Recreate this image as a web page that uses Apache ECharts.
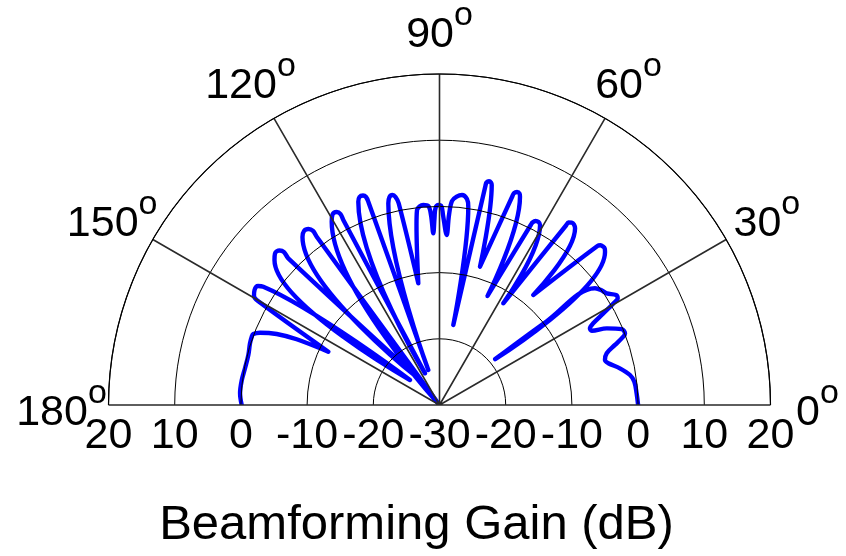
<!DOCTYPE html>
<html>
<head>
<meta charset="utf-8">
<script src="https://cdn.jsdelivr.net/npm/echarts@6/dist/echarts.min.js"></script>
<style>
  html, body { margin: 0; padding: 0; background: #ffffff; }
  #chart { width: 846px; height: 556px; }
</style>
</head>
<body>
<div id="chart"></div>
<script>
// Beam pattern: direction (degrees) and gain (dB), traced in drawing order
const angleDeg = [
  0, 3.4, 6.8, 8.95, 11.5, 13.9, 15.2, 17.2, 18.9, 20.4, 21.1, 22.6, 24.6, 26.0, 27.0, 28.0,
  29.2, 30.3, 30.9, 31.9, 33.7, 35.45, 36.9, 38.0, 39.5,
  42.75, 43.45, 44.1, 44.77, 45.2, 49.55,
  52.5, 53.3, 54.05, 54.75, 54.83, 57.9,
  60.8, 61.6, 62.45, 63.0, 63.1, 66.24,
  68.87, 69.28, 70.0, 70.63, 70.75, 73.68,
  76.65, 76.97, 77.52, 78.07, 78.16, 80.2,
  81.74, 82.4, 83.88, 85.28, 86.5, 87.14, 87.57, 88.94, 89.42, 90.29, 91.16, 91.53, 92.07,
  92.56, 93.22, 94.63, 95.75, 96.58, 97.28, 99.88,
  101.44, 101.94, 102.62, 103.52, 104.24, 107.74,
  109.3, 109.46, 110.06, 111.04, 111.77, 114.58,
  117.47, 117.4, 118.04, 119.32, 120.46, 120.5,
  126.12, 126.01, 126.66, 127.91, 129.2, 128.44,
  135.87, 135.47, 136.0, 137.36, 138.7, 139.72,
  146.12, 146.75, 148.13, 149.56, 150.2, 154.39,
  155.29, 156.44, 158.06, 159.13, 160.0, 162.0, 165.3, 169.3, 172.8, 176.6, 180.0
];
const gainDb = [
  0.0, -0.17, -0.36, -0.87, -2.2, -3.73, -4.1, -3.56, -1.98, -0.38, 0.04, -0.2, -2.2, -4.4, -4.5, -3.7,
  -1.65, 0.42, 1.37, 1.42, 0.37, -0.05, -0.63, -9.5, -19.1,
  4.05, 4.38, 4.4, 4.26, 3.86, -8.16,
  3.64, 4.0, 4.02, 3.76, 3.17, -11.87,
  1.14, 1.43, 1.35, 0.94, 0.57, -12.0,
  3.73, 4.16, 4.24, 3.94, 3.44, -8.23,
  4.16, 4.5, 4.61, 4.35, 3.88, -17.74,
  0.27, 1.39, 1.9, 1.57, 0.87, -1.27, -4.3, -1.3, -0.02, 0.21, -0.24, -1.74, -4.05,
  -1.27, 0.11, 0.31, 0.14, -0.35, -2.58, -11.34,
  1.09, 2.12, 2.51, 2.31, 1.43, -24.45,
  2.54, 3.32, 3.69, 3.67, 3.07, -24.73,
  1.5, 2.49, 3.03, 3.0, 2.12, -30,
  1.47, 2.5, 3.14, 3.31, 2.75, -24.85,
  1.83, 2.95, 3.6, 3.78, 3.18, -24.16,
  2.06, 2.78, 2.9, 2.5, 1.6, -11.37,
  -6.25, -3.17, -0.77, 0.1, 0.18, 0.1, -0.15, -0.1, 0.1, 0.18, -0.12
];

// Angular tick labels (degrees) and the gain scale
const angleTicks = [0, 30, 60, 90, 120, 150, 180];
const gainMin = -30, gainMax = 20, gainStep = 10;
const axisTitle = 'Beamforming Gain (dB)';

const FONT = '"Liberation Sans", Arial, Helvetica, sans-serif';
const CX = 439.5, CY = 405, R = 331;

const chart = echarts.init(document.getElementById('chart'), null, { renderer: 'canvas' });

const radiusLabelBase = {
  show: true, fontSize: 43, color: '#000', fontFamily: FONT, verticalAlign: 'top'
};

chart.setOption({
  animation: false,
  backgroundColor: '#ffffff',
  polar: [
    { center: [CX, CY], radius: R },
    { center: [CX, CY], radius: R }
  ],
  angleAxis: [
    {
      polarIndex: 0, type: 'value', min: 0, max: 180, interval: 30,
      startAngle: 0, endAngle: 180, clockwise: false, z: 4,
      axisLine: { show: true, lineStyle: { color: '#000', width: 1.2 } },
      axisTick: { show: false },
      axisLabel: { show: false },
      splitLine: { show: true, lineStyle: { color: '#2a2a2a', width: 1.6 } }
    },
    {
      polarIndex: 1, type: 'value', min: 0, max: 180,
      startAngle: 180, clockwise: true, show: false
    }
  ],
  radiusAxis: [
    {
      polarIndex: 0, type: 'value', min: gainMin, max: gainMax, interval: gainStep, z: 4,
      axisLine: { show: false }, axisTick: { show: false },
      splitLine: { show: true, lineStyle: { color: '#000', width: 1 } },
      axisLabel: Object.assign({ margin: -10 }, radiusLabelBase)
    },
    {
      polarIndex: 1, type: 'value', min: gainMin, max: gainMax, interval: gainStep,
      axisLine: { show: false }, axisTick: { show: false }, splitLine: { show: false },
      axisLabel: Object.assign({ margin: 10, formatter: v => (v === gainMin ? '' : String(v)) }, radiusLabelBase)
    }
  ],
  series: [{
    type: 'line',
    coordinateSystem: 'polar',
    polarIndex: 0,
    showSymbol: false,
    symbol: 'none',
    smooth: 0.35,
    z: 2,
    lineStyle: { color: '#0000ff', width: 4.4, cap: 'round', join: 'round' },
    data: angleDeg.map((a, i) => [gainDb[i], a])
  }]
});

// Degree labels just outside the outer ring, plus the axis title
const LABEL_RADIUS = 27.1;
const toPixel = (r, a) => {
  const p = chart.convertToPixel({ polarIndex: 0 }, [r, a]);
  if (p) return p;
  const rr = (r - gainMin) / (gainMax - gainMin) * R;
  return [CX + rr * Math.cos(a * Math.PI / 180), CY - rr * Math.sin(a * Math.PI / 180)];
};

const labels = angleTicks.map(a => {
  const p = toPixel(LABEL_RADIUS, a);
  return {
    type: 'text',
    x: p[0],
    y: p[1] + 8,
    z: 10,
    style: {
      text: '{d|' + a + '}{s|o}',
      align: 'center',
      verticalAlign: 'middle',
      rich: {
        d: { fontSize: 43, fontFamily: FONT, fill: '#000' },
        s: { fontSize: 34, fontFamily: FONT, fill: '#000', padding: [0, 0, 38, 0] }
      }
    }
  };
});

labels.push({
  type: 'text',
  x: 416.5,
  y: 525,
  z: 10,
  style: {
    text: axisTitle,
    fontSize: 49,
    fontFamily: FONT,
    fill: '#000',
    align: 'center',
    verticalAlign: 'middle'
  }
});

chart.setOption({ graphic: labels });
</script>
</body>
</html>
